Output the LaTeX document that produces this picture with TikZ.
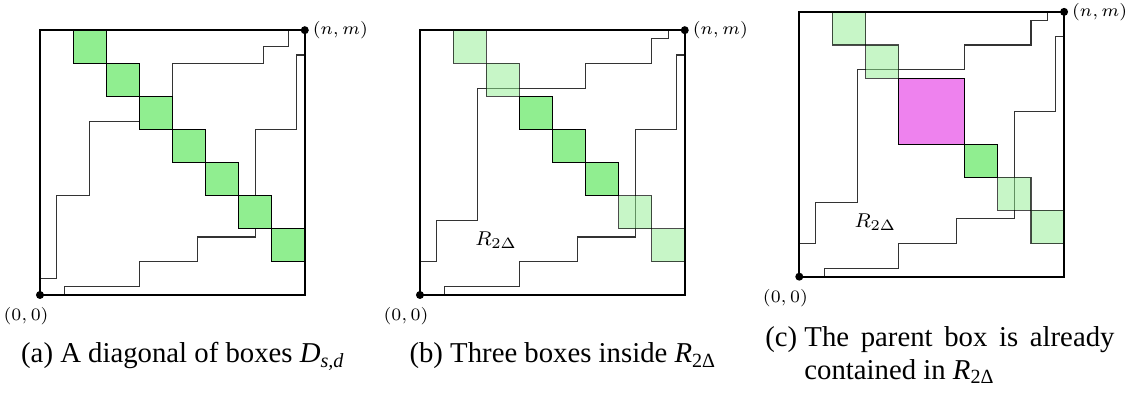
\documentclass[tikz,border=0pt]{standalone}
\usepackage{fontspec}
\usetikzlibrary{positioning}
\newfontfamily\capfont{Liberation Serif}
\definecolor{boxgreen}{HTML}{90EE90}
\definecolor{parentpink}{HTML}{EE82EE}
\definecolor{walkline}{HTML}{333333}
\tikzset{
  frame/.style={draw=black,line width=0.75pt},
  walk/.style={draw=walkline,line width=0.45pt},
  cell/.style={draw=black,line width=0.45pt,fill=boxgreen},
  faintcell/.style={draw=black,draw opacity=0.7,line width=0.45pt,fill=boxgreen,fill opacity=0.5},
  parentcell/.style={draw=black,line width=0.45pt,fill=parentpink},
  corner/.style={fill=black},
  coordlabel/.style={inner sep=1pt,font=\fontsize{7}{8}\selectfont},
  regionlabel/.style={inner sep=0pt,font=\fontsize{8}{9}\selectfont},
  subcap/.style={inner sep=0pt,font=\capfont\fontsize{11.5}{13.2}\selectfont}
}

\begin{document}
\begin{tikzpicture}[x=13.24pt,y=13.24pt]
  \useasboundingbox (-1.208,-3.112) rectangle (32.81,8.912);

  % (a)
  \begin{scope}
    \draw[walk] (0,0) -- (0,0.5) -- (0.5,0.5) -- (0.5,3) -- (1.5,3) -- (1.5,5.25) -- (4,5.25) -- (4,7) -- (6.75,7) -- (6.75,7.5) -- (7.5,7.5) -- (7.5,8) -- (8,8);
    \draw[walk] (0,0) -- (0.75,0) -- (0.75,0.25) -- (3,0.25) -- (3,1) -- (4.75,1) -- (4.75,1.75) -- (6.5,1.75) -- (6.5,5) -- (7.75,5) -- (7.75,7.25) -- (8,7.25) -- (8,8);
    \foreach \i in {1,...,7}
      \draw[cell] (\i,{8-\i}) rectangle ++(1,1);
    \draw[frame] (0,0) rectangle (8,8);
    \coordinate (a-o) at (0,0);
    \coordinate (a-nm) at (8,8);
    \fill[corner] (a-o) circle (1.6pt);
    \fill[corner] (a-nm) circle (1.6pt);
    \node[coordlabel,right=2pt of a-nm] (a-nmlbl) {$(n,m)$};
    \node[coordlabel] (a-olbl) at (-0.42,-0.65) {$(0,0)$};
    \node[subcap,anchor=base] (a-cap) at (4.32,-2.054) {(a) A diagonal of boxes \textit{D}\textsubscript{\textit{s,d}}};
  \end{scope}

  % (b)
  \begin{scope}[shift={(11.48,0)}]
    \draw[walk] (0,0) -- (0,1) -- (0.5,1) -- (0.5,2.25) -- (1.75,2.25) -- (1.75,6.25) -- (5,6.25) -- (5,7) -- (7,7) -- (7,7.75) -- (7.5,7.75) -- (7.5,8) -- (8,8);
    \draw[walk] (0,0) -- (0.75,0) -- (0.75,0.25) -- (3,0.25) -- (3,1) -- (4.75,1) -- (4.75,1.75) -- (6.5,1.75) -- (6.5,5) -- (7.75,5) -- (7.75,7.25) -- (8,7.25) -- (8,8);
    \foreach \i in {1,2,6,7}
      \draw[faintcell] (\i,{8-\i}) rectangle ++(1,1);
    \foreach \i in {3,4,5}
      \draw[cell] (\i,{8-\i}) rectangle ++(1,1);
    \draw[frame] (0,0) rectangle (8,8);
    \coordinate (b-o) at (0,0);
    \coordinate (b-nm) at (8,8);
    \fill[corner] (b-o) circle (1.6pt);
    \fill[corner] (b-nm) circle (1.6pt);
    \node[coordlabel,right=2pt of b-nm] (b-nmlbl) {$(n,m)$};
    \node[coordlabel] (b-olbl) at (-0.42,-0.65) {$(0,0)$};
    \node[regionlabel] (b-region) at (2.3,1.65) {$R_{2\Delta}$};
    \node[subcap,anchor=base] (b-cap) at (4.32,-2.054) {(b) Three boxes inside \textit{R}\textsubscript{2Δ}};
  \end{scope}

  % (c)
  \begin{scope}[shift={(22.94,0.553)}]
    \draw[walk] (0,0) -- (0,1) -- (0.5,1) -- (0.5,2.25) -- (1.75,2.25) -- (1.75,6.25) -- (5,6.25) -- (5,7) -- (7,7) -- (7,7.75) -- (7.5,7.75) -- (7.5,8) -- (8,8);
    \draw[walk] (0,0) -- (0.75,0) -- (0.75,0.25) -- (3,0.25) -- (3,1) -- (4.75,1) -- (4.75,1.75) -- (6.5,1.75) -- (6.5,5) -- (7.75,5) -- (7.75,7.25) -- (8,7.25) -- (8,8);
    \foreach \i in {1,2,6,7}
      \draw[faintcell] (\i,{8-\i}) rectangle ++(1,1);
    \draw[cell] (5,3) rectangle ++(1,1);
    \draw[parentcell] (3,4) rectangle (5,6);
    \draw[frame] (0,0) rectangle (8,8);
    \coordinate (c-o) at (0,0);
    \coordinate (c-nm) at (8,8);
    \fill[corner] (c-o) circle (1.6pt);
    \fill[corner] (c-nm) circle (1.6pt);
    \node[coordlabel,right=2pt of c-nm] (c-nmlbl) {$(n,m)$};
    \node[coordlabel] (c-olbl) at (-0.42,-0.65) {$(0,0)$};
    \node[regionlabel] (c-region) at (2.3,1.65) {$R_{2\Delta}$};
    \node[subcap,anchor=base west] (c-cap) at (-1.04,-2.1) {\begin{tabular}[t]{@{}l@{\ }l@{}}(c) & \makebox[124pt][s]{The parent box is already}\\ & contained in \textit{R}\textsubscript{2Δ}\end{tabular}};
  \end{scope}
\end{tikzpicture}
\end{document}
